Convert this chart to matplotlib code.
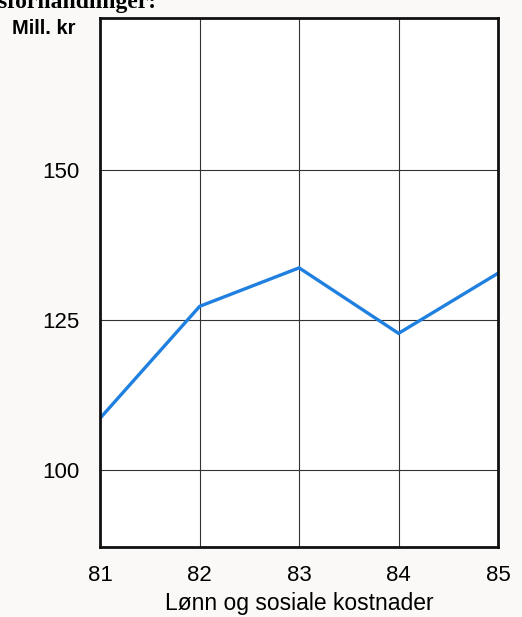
import matplotlib
matplotlib.use("Agg")
import matplotlib.pyplot as plt

years = [81, 82, 83, 84, 85]
values = [108.7, 127.3, 133.7, 122.8, 132.8]
xticklabels = ["81", "82", "83", "84", "85"]
yticks = [100, 125, 150]

plt.rcParams['font.family'] = ['Liberation Sans', 'DejaVu Sans']
SANS = ['Liberation Sans', 'DejaVu Sans']
fig = plt.figure(figsize=(5.22, 6.17), dpi=100)
fig.patch.set_facecolor('#faf9f8')
ax = fig.add_axes([0.192, 0.113, 0.762, 0.858])
ax.plot(years, values, color='#1f80e0', lw=2.4, solid_joinstyle='miter')
ax.set_xlim(81, 85)
ax.set_ylim(87.2, 175.3)
ax.set_xticks(years)
ax.set_xticklabels(xticklabels, fontsize=16, family=SANS)
ax.set_yticks(yticks)
ax.set_yticklabels([str(v) for v in yticks], fontsize=16, family=SANS)
ax.tick_params(axis='x', length=0, pad=13)
ax.tick_params(axis='y', length=0, pad=15)
ax.grid(True, color='#333333', lw=0.8)
for s in ax.spines.values():
    s.set_linewidth(2)
    s.set_color('#111111')
ax.set_xlabel("Lønn og sosiale kostnader", fontsize=16.5, labelpad=4, family=SANS)
fig.text(0.144, 0.953, "Mill. kr", fontsize=14.5, ha='right', va='center', fontweight='bold', family=SANS)
fig.text(0.30, 0.987, "Lønnsforhandlinger:", fontsize=17, family=['Liberation Serif', 'DejaVu Serif'], ha='right', va='baseline', fontweight='bold')
fig.savefig("out.png", dpi=100, facecolor=fig.get_facecolor())
